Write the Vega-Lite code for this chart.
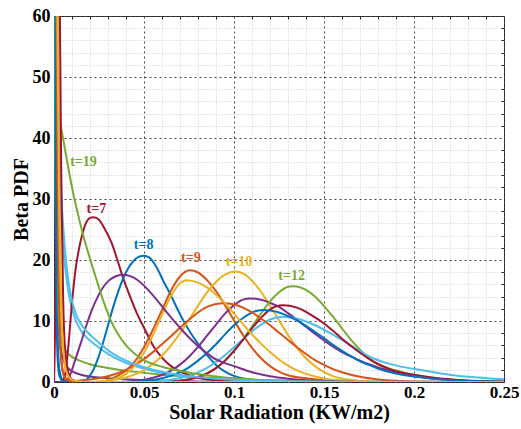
{
 "$schema": "https://vega.github.io/schema/vega-lite/v6.json",
 "width": 450, "height": 366,
 "autosize": {"type": "none"},
 "padding": {"left": 54, "top": 16, "right": 17, "bottom": 47},
 "background": "white",
 "config": {"view": {"stroke": "#262626", "strokeWidth": 1}, "font": "Liberation Serif"},
 "datasets": {
  "curves": [
   {"t":"t01","x":0,"y":400},{"t":"t01","x":0.0005,"y":120},{"t":"t01","x":0.001,"y":45},{"t":"t01","x":0.0015,"y":18},{"t":"t01","x":0.002,"y":8},{"t":"t01","x":0.003,"y":2},{"t":"t01","x":0.005,"y":0.3},{"t":"t01","x":0.01,"y":0},{"t":"t01","x":0.25,"y":0},
   {"t":"t02","x":0,"y":300},{"t":"t02","x":0.0005,"y":200},{"t":"t02","x":0.001,"y":110},{"t":"t02","x":0.0015,"y":65},{"t":"t02","x":0.002,"y":40},{"t":"t02","x":0.0028,"y":16},{"t":"t02","x":0.0035,"y":7},{"t":"t02","x":0.0046,"y":2.3},{"t":"t02","x":0.006,"y":0.8},{"t":"t02","x":0.008,"y":0.3},{"t":"t02","x":0.011,"y":0.05},{"t":"t02","x":0.02,"y":0},{"t":"t02","x":0.25,"y":0},
   {"t":"t03","x":0,"y":250},{"t":"t03","x":0.001,"y":120},{"t":"t03","x":0.002,"y":60},{"t":"t03","x":0.003,"y":28},{"t":"t03","x":0.0037,"y":16},{"t":"t03","x":0.0045,"y":9},{"t":"t03","x":0.0055,"y":4},{"t":"t03","x":0.0065,"y":1.9},{"t":"t03","x":0.008,"y":0.8},{"t":"t03","x":0.01,"y":0.3},{"t":"t03","x":0.0144,"y":0.05},{"t":"t03","x":0.02,"y":0},{"t":"t03","x":0.25,"y":0},
   {"t":"t04","x":0,"y":300},{"t":"t04","x":0.001,"y":40},{"t":"t04","x":0.002,"y":15},{"t":"t04","x":0.004,"y":5},{"t":"t04","x":0.008,"y":2.2},{"t":"t04","x":0.015,"y":1.2},{"t":"t04","x":0.03,"y":0.6},{"t":"t04","x":0.05,"y":0.3},{"t":"t04","x":0.08,"y":0.1},{"t":"t04","x":0.12,"y":0},{"t":"t04","x":0.25,"y":0},
   {"t":"t05","x":0,"y":300},{"t":"t05","x":0.0005,"y":50},{"t":"t05","x":0.001,"y":25},{"t":"t05","x":0.0015,"y":17},{"t":"t05","x":0.002,"y":13},{"t":"t05","x":0.003,"y":9},{"t":"t05","x":0.005,"y":6},{"t":"t05","x":0.008,"y":4.6},{"t":"t05","x":0.012,"y":3.8},{"t":"t05","x":0.016,"y":3.3},{"t":"t05","x":0.02,"y":2.9},{"t":"t05","x":0.03,"y":2.3},{"t":"t05","x":0.044,"y":1.7},{"t":"t05","x":0.06,"y":1.2},{"t":"t05","x":0.08,"y":0.8},{"t":"t05","x":0.1,"y":0.5},{"t":"t05","x":0.13,"y":0.25},{"t":"t05","x":0.17,"y":0.08},{"t":"t05","x":0.25,"y":0},
   {"t":"t06","x":0,"y":200},{"t":"t06","x":0.001,"y":90},{"t":"t06","x":0.002,"y":50},{"t":"t06","x":0.003,"y":34},{"t":"t06","x":0.004,"y":27},{"t":"t06","x":0.005,"y":22.5},{"t":"t06","x":0.006,"y":19.3},{"t":"t06","x":0.007,"y":16.8},{"t":"t06","x":0.0083,"y":14.3},{"t":"t06","x":0.01,"y":12},{"t":"t06","x":0.012,"y":10.2},{"t":"t06","x":0.015,"y":8.4},{"t":"t06","x":0.0185,"y":7.2},{"t":"t06","x":0.022,"y":6.3},{"t":"t06","x":0.026,"y":5.4},{"t":"t06","x":0.03,"y":4.6},{"t":"t06","x":0.037,"y":3.5},{"t":"t06","x":0.045,"y":2.6},{"t":"t06","x":0.055,"y":1.8},{"t":"t06","x":0.065,"y":1.2},{"t":"t06","x":0.08,"y":0.7},{"t":"t06","x":0.1,"y":0.3},{"t":"t06","x":0.12,"y":0.14},{"t":"t06","x":0.15,"y":0.05},{"t":"t06","x":0.25,"y":0},
   {"t":"t07","x":0,"y":0},{"t":"t07","x":0.004,"y":0},{"t":"t07","x":0.006,"y":1},{"t":"t07","x":0.008,"y":6},{"t":"t07","x":0.01,"y":13},{"t":"t07","x":0.012,"y":18.5},{"t":"t07","x":0.014,"y":22},{"t":"t07","x":0.016,"y":24.5},{"t":"t07","x":0.018,"y":26.2},{"t":"t07","x":0.02,"y":26.9},{"t":"t07","x":0.022,"y":27},{"t":"t07","x":0.025,"y":26.6},{"t":"t07","x":0.028,"y":25.2},{"t":"t07","x":0.032,"y":22.8},{"t":"t07","x":0.035,"y":20.2},{"t":"t07","x":0.038,"y":17.4},{"t":"t07","x":0.042,"y":14.2},{"t":"t07","x":0.046,"y":11.3},{"t":"t07","x":0.05,"y":8.9},{"t":"t07","x":0.055,"y":6},{"t":"t07","x":0.06,"y":4},{"t":"t07","x":0.065,"y":2.6},{"t":"t07","x":0.07,"y":1.7},{"t":"t07","x":0.08,"y":0.7},{"t":"t07","x":0.09,"y":0.25},{"t":"t07","x":0.1,"y":0.08},{"t":"t07","x":0.12,"y":0},{"t":"t07","x":0.25,"y":0},
   {"t":"t08","x":0,"y":0},{"t":"t08","x":0.012,"y":0},{"t":"t08","x":0.015,"y":0.1},{"t":"t08","x":0.018,"y":0.4},{"t":"t08","x":0.021,"y":1.5},{"t":"t08","x":0.024,"y":3.5},{"t":"t08","x":0.027,"y":6.2},{"t":"t08","x":0.03,"y":9.3},{"t":"t08","x":0.033,"y":12.4},{"t":"t08","x":0.036,"y":15.1},{"t":"t08","x":0.04,"y":18},{"t":"t08","x":0.044,"y":19.8},{"t":"t08","x":0.047,"y":20.5},{"t":"t08","x":0.05,"y":20.7},{"t":"t08","x":0.053,"y":20.4},{"t":"t08","x":0.057,"y":18.8},{"t":"t08","x":0.061,"y":16.4},{"t":"t08","x":0.065,"y":14.2},{"t":"t08","x":0.068,"y":12.3},{"t":"t08","x":0.072,"y":10},{"t":"t08","x":0.076,"y":8},{"t":"t08","x":0.08,"y":6.3},{"t":"t08","x":0.085,"y":4.4},{"t":"t08","x":0.09,"y":2.8},{"t":"t08","x":0.095,"y":1.7},{"t":"t08","x":0.1,"y":1},{"t":"t08","x":0.11,"y":0.35},{"t":"t08","x":0.12,"y":0.1},{"t":"t08","x":0.13,"y":0},{"t":"t08","x":0.25,"y":0},
   {"t":"t09","x":0,"y":0},{"t":"t09","x":0.025,"y":0},{"t":"t09","x":0.03,"y":0.3},{"t":"t09","x":0.035,"y":0.96},{"t":"t09","x":0.04,"y":1.9},{"t":"t09","x":0.045,"y":3.4},{"t":"t09","x":0.05,"y":5.7},{"t":"t09","x":0.055,"y":8.6},{"t":"t09","x":0.06,"y":11.8},{"t":"t09","x":0.065,"y":15},{"t":"t09","x":0.07,"y":17.3},{"t":"t09","x":0.0756,"y":18.3},{"t":"t09","x":0.08,"y":17.95},{"t":"t09","x":0.085,"y":16.7},{"t":"t09","x":0.09,"y":14.9},{"t":"t09","x":0.095,"y":12.6},{"t":"t09","x":0.1,"y":10.1},{"t":"t09","x":0.105,"y":7.7},{"t":"t09","x":0.11,"y":5.6},{"t":"t09","x":0.115,"y":3.9},{"t":"t09","x":0.12,"y":2.6},{"t":"t09","x":0.125,"y":1.7},{"t":"t09","x":0.13,"y":1.1},{"t":"t09","x":0.14,"y":0.6},{"t":"t09","x":0.15,"y":0.3},{"t":"t09","x":0.16,"y":0.15},{"t":"t09","x":0.17,"y":0.07},{"t":"t09","x":0.18,"y":0},{"t":"t09","x":0.25,"y":0},
   {"t":"t10","x":0,"y":0},{"t":"t10","x":0.025,"y":0},{"t":"t10","x":0.03,"y":0.24},{"t":"t10","x":0.04,"y":0.75},{"t":"t10","x":0.045,"y":1.24},{"t":"t10","x":0.05,"y":1.96},{"t":"t10","x":0.055,"y":2.97},{"t":"t10","x":0.06,"y":4.3},{"t":"t10","x":0.065,"y":6},{"t":"t10","x":0.07,"y":8},{"t":"t10","x":0.075,"y":10.2},{"t":"t10","x":0.08,"y":12.5},{"t":"t10","x":0.085,"y":14.7},{"t":"t10","x":0.09,"y":16.4},{"t":"t10","x":0.095,"y":17.6},{"t":"t10","x":0.1006,"y":18.1},{"t":"t10","x":0.105,"y":17.8},{"t":"t10","x":0.11,"y":16.6},{"t":"t10","x":0.115,"y":14.8},{"t":"t10","x":0.12,"y":12.5},{"t":"t10","x":0.125,"y":10.1},{"t":"t10","x":0.13,"y":7.7},{"t":"t10","x":0.135,"y":5.6},{"t":"t10","x":0.14,"y":3.9},{"t":"t10","x":0.145,"y":2.6},{"t":"t10","x":0.15,"y":1.6},{"t":"t10","x":0.155,"y":0.97},{"t":"t10","x":0.16,"y":0.56},{"t":"t10","x":0.17,"y":0.16},{"t":"t10","x":0.18,"y":0.03},{"t":"t10","x":0.19,"y":0},{"t":"t10","x":0.25,"y":0},
   {"t":"t11","x":0,"y":0},{"t":"t11","x":0.04,"y":0},{"t":"t11","x":0.045,"y":0.2},{"t":"t11","x":0.05,"y":0.38},{"t":"t11","x":0.055,"y":0.69},{"t":"t11","x":0.06,"y":1.14},{"t":"t11","x":0.065,"y":1.85},{"t":"t11","x":0.07,"y":2.85},{"t":"t11","x":0.075,"y":4.15},{"t":"t11","x":0.08,"y":5.75},{"t":"t11","x":0.085,"y":7.6},{"t":"t11","x":0.09,"y":9.4},{"t":"t11","x":0.095,"y":11.2},{"t":"t11","x":0.1,"y":12.6},{"t":"t11","x":0.105,"y":13.5},{"t":"t11","x":0.109,"y":13.7},{"t":"t11","x":0.115,"y":13.5},{"t":"t11","x":0.12,"y":13},{"t":"t11","x":0.125,"y":12.3},{"t":"t11","x":0.13,"y":11.3},{"t":"t11","x":0.135,"y":10.2},{"t":"t11","x":0.14,"y":9.05},{"t":"t11","x":0.145,"y":7.9},{"t":"t11","x":0.15,"y":6.8},{"t":"t11","x":0.155,"y":5.8},{"t":"t11","x":0.16,"y":4.9},{"t":"t11","x":0.165,"y":4.2},{"t":"t11","x":0.17,"y":3.5},{"t":"t11","x":0.175,"y":2.9},{"t":"t11","x":0.18,"y":2.4},{"t":"t11","x":0.185,"y":2},{"t":"t11","x":0.19,"y":1.6},{"t":"t11","x":0.2,"y":1},{"t":"t11","x":0.21,"y":0.6},{"t":"t11","x":0.22,"y":0.35},{"t":"t11","x":0.23,"y":0.18},{"t":"t11","x":0.24,"y":0.08},{"t":"t11","x":0.25,"y":0.03},
   {"t":"t12","x":0,"y":0},{"t":"t12","x":0.065,"y":0},{"t":"t12","x":0.07,"y":0.26},{"t":"t12","x":0.075,"y":0.48},{"t":"t12","x":0.08,"y":0.86},{"t":"t12","x":0.085,"y":1.46},{"t":"t12","x":0.09,"y":2.3},{"t":"t12","x":0.095,"y":3.5},{"t":"t12","x":0.1,"y":5.1},{"t":"t12","x":0.105,"y":7},{"t":"t12","x":0.11,"y":9.1},{"t":"t12","x":0.115,"y":11.2},{"t":"t12","x":0.12,"y":13.2},{"t":"t12","x":0.125,"y":14.7},{"t":"t12","x":0.13,"y":15.6},{"t":"t12","x":0.133,"y":15.7},{"t":"t12","x":0.14,"y":15.1},{"t":"t12","x":0.145,"y":14},{"t":"t12","x":0.15,"y":12.45},{"t":"t12","x":0.155,"y":10.7},{"t":"t12","x":0.16,"y":8.8},{"t":"t12","x":0.165,"y":6.9},{"t":"t12","x":0.17,"y":5.3},{"t":"t12","x":0.175,"y":3.9},{"t":"t12","x":0.18,"y":2.9},{"t":"t12","x":0.185,"y":2.3},{"t":"t12","x":0.19,"y":1.9},{"t":"t12","x":0.195,"y":1.5},{"t":"t12","x":0.2,"y":1.15},{"t":"t12","x":0.21,"y":0.65},{"t":"t12","x":0.22,"y":0.35},{"t":"t12","x":0.23,"y":0.17},{"t":"t12","x":0.24,"y":0.08},{"t":"t12","x":0.25,"y":0.03},
   {"t":"t13","x":0,"y":0},{"t":"t13","x":0.055,"y":0},{"t":"t13","x":0.06,"y":0.22},{"t":"t13","x":0.065,"y":0.38},{"t":"t13","x":0.07,"y":0.64},{"t":"t13","x":0.075,"y":1},{"t":"t13","x":0.08,"y":1.57},{"t":"t13","x":0.085,"y":2.3},{"t":"t13","x":0.09,"y":3.3},{"t":"t13","x":0.095,"y":4.4},{"t":"t13","x":0.1,"y":5.7},{"t":"t13","x":0.105,"y":7},{"t":"t13","x":0.11,"y":8.3},{"t":"t13","x":0.115,"y":9.4},{"t":"t13","x":0.12,"y":10.25},{"t":"t13","x":0.127,"y":10.7},{"t":"t13","x":0.135,"y":10.4},{"t":"t13","x":0.145,"y":9.3},{"t":"t13","x":0.157,"y":7.4},{"t":"t13","x":0.166,"y":5.8},{"t":"t13","x":0.1756,"y":4.1},{"t":"t13","x":0.185,"y":3.1},{"t":"t13","x":0.195,"y":2.4},{"t":"t13","x":0.203,"y":2},{"t":"t13","x":0.215,"y":1.4},{"t":"t13","x":0.225,"y":1},{"t":"t13","x":0.235,"y":0.75},{"t":"t13","x":0.244,"y":0.55},{"t":"t13","x":0.25,"y":0.45},
   {"t":"t14","x":0,"y":0},{"t":"t14","x":0.065,"y":0},{"t":"t14","x":0.07,"y":0.22},{"t":"t14","x":0.075,"y":0.43},{"t":"t14","x":0.08,"y":0.8},{"t":"t14","x":0.085,"y":1.39},{"t":"t14","x":0.09,"y":2.28},{"t":"t14","x":0.095,"y":3.5},{"t":"t14","x":0.1,"y":5.1},{"t":"t14","x":0.105,"y":6.9},{"t":"t14","x":0.11,"y":8.8},{"t":"t14","x":0.115,"y":10.5},{"t":"t14","x":0.12,"y":11.9},{"t":"t14","x":0.127,"y":12.6},{"t":"t14","x":0.135,"y":12.2},{"t":"t14","x":0.14,"y":11.5},{"t":"t14","x":0.145,"y":10.6},{"t":"t14","x":0.15,"y":9.6},{"t":"t14","x":0.155,"y":8.4},{"t":"t14","x":0.16,"y":7.1},{"t":"t14","x":0.165,"y":5.9},{"t":"t14","x":0.17,"y":4.8},{"t":"t14","x":0.175,"y":3.8},{"t":"t14","x":0.18,"y":2.95},{"t":"t14","x":0.185,"y":2.3},{"t":"t14","x":0.19,"y":1.75},{"t":"t14","x":0.195,"y":1.45},{"t":"t14","x":0.2,"y":1.2},{"t":"t14","x":0.21,"y":0.75},{"t":"t14","x":0.22,"y":0.45},{"t":"t14","x":0.23,"y":0.25},{"t":"t14","x":0.24,"y":0.13},{"t":"t14","x":0.25,"y":0.06},
   {"t":"t15","x":0,"y":0},{"t":"t15","x":0.045,"y":0},{"t":"t15","x":0.05,"y":0.19},{"t":"t15","x":0.055,"y":0.35},{"t":"t15","x":0.06,"y":0.62},{"t":"t15","x":0.065,"y":1},{"t":"t15","x":0.07,"y":1.6},{"t":"t15","x":0.075,"y":2.4},{"t":"t15","x":0.08,"y":3.5},{"t":"t15","x":0.085,"y":4.75},{"t":"t15","x":0.09,"y":6.2},{"t":"t15","x":0.095,"y":7.8},{"t":"t15","x":0.1,"y":9.3},{"t":"t15","x":0.105,"y":10.5},{"t":"t15","x":0.11,"y":11.4},{"t":"t15","x":0.116,"y":11.8},{"t":"t15","x":0.12,"y":11.7},{"t":"t15","x":0.125,"y":11.4},{"t":"t15","x":0.13,"y":10.8},{"t":"t15","x":0.135,"y":10.1},{"t":"t15","x":0.14,"y":9.2},{"t":"t15","x":0.145,"y":8.2},{"t":"t15","x":0.15,"y":7.2},{"t":"t15","x":0.155,"y":6.1},{"t":"t15","x":0.16,"y":5.1},{"t":"t15","x":0.165,"y":4.2},{"t":"t15","x":0.17,"y":3.4},{"t":"t15","x":0.175,"y":2.8},{"t":"t15","x":0.18,"y":2.2},{"t":"t15","x":0.19,"y":1.4},{"t":"t15","x":0.2,"y":0.9},{"t":"t15","x":0.21,"y":0.55},{"t":"t15","x":0.22,"y":0.32},{"t":"t15","x":0.23,"y":0.18},{"t":"t15","x":0.24,"y":0.1},{"t":"t15","x":0.25,"y":0.05},
   {"t":"t16","x":0,"y":0},{"t":"t16","x":0.005,"y":0},{"t":"t16","x":0.01,"y":0.14},{"t":"t16","x":0.02,"y":0.4},{"t":"t16","x":0.03,"y":0.95},{"t":"t16","x":0.04,"y":2},{"t":"t16","x":0.045,"y":2.8},{"t":"t16","x":0.05,"y":3.76},{"t":"t16","x":0.055,"y":4.9},{"t":"t16","x":0.06,"y":6.2},{"t":"t16","x":0.065,"y":7.5},{"t":"t16","x":0.07,"y":8.9},{"t":"t16","x":0.075,"y":10.2},{"t":"t16","x":0.08,"y":11.4},{"t":"t16","x":0.085,"y":12.3},{"t":"t16","x":0.09,"y":12.8},{"t":"t16","x":0.094,"y":12.9},{"t":"t16","x":0.1,"y":12.7},{"t":"t16","x":0.105,"y":12.2},{"t":"t16","x":0.11,"y":11.4},{"t":"t16","x":0.115,"y":10.4},{"t":"t16","x":0.12,"y":9.3},{"t":"t16","x":0.125,"y":8.1},{"t":"t16","x":0.13,"y":6.9},{"t":"t16","x":0.135,"y":5.7},{"t":"t16","x":0.14,"y":4.6},{"t":"t16","x":0.145,"y":3.6},{"t":"t16","x":0.15,"y":2.8},{"t":"t16","x":0.155,"y":2.1},{"t":"t16","x":0.16,"y":1.6},{"t":"t16","x":0.17,"y":0.85},{"t":"t16","x":0.18,"y":0.42},{"t":"t16","x":0.19,"y":0.2},{"t":"t16","x":0.2,"y":0.09},{"t":"t16","x":0.21,"y":0.03},{"t":"t16","x":0.22,"y":0},{"t":"t16","x":0.25,"y":0},
   {"t":"t17","x":0,"y":0},{"t":"t17","x":0.02,"y":0},{"t":"t17","x":0.025,"y":0.08},{"t":"t17","x":0.03,"y":0.24},{"t":"t17","x":0.035,"y":0.6},{"t":"t17","x":0.04,"y":1.33},{"t":"t17","x":0.045,"y":2.7},{"t":"t17","x":0.05,"y":4.8},{"t":"t17","x":0.055,"y":7.7},{"t":"t17","x":0.06,"y":11},{"t":"t17","x":0.065,"y":14.1},{"t":"t17","x":0.07,"y":16.2},{"t":"t17","x":0.0737,"y":16.7},{"t":"t17","x":0.08,"y":16.3},{"t":"t17","x":0.085,"y":15.5},{"t":"t17","x":0.09,"y":14.3},{"t":"t17","x":0.095,"y":12.9},{"t":"t17","x":0.1,"y":11.2},{"t":"t17","x":0.105,"y":9.5},{"t":"t17","x":0.11,"y":7.8},{"t":"t17","x":0.115,"y":6.3},{"t":"t17","x":0.12,"y":4.9},{"t":"t17","x":0.125,"y":3.7},{"t":"t17","x":0.13,"y":2.7},{"t":"t17","x":0.135,"y":1.9},{"t":"t17","x":0.14,"y":1.33},{"t":"t17","x":0.145,"y":0.9},{"t":"t17","x":0.15,"y":0.58},{"t":"t17","x":0.16,"y":0.23},{"t":"t17","x":0.17,"y":0.08},{"t":"t17","x":0.18,"y":0},{"t":"t17","x":0.25,"y":0},
   {"t":"t18","x":0,"y":0},{"t":"t18","x":0.006,"y":0},{"t":"t18","x":0.008,"y":0.5},{"t":"t18","x":0.01,"y":2},{"t":"t18","x":0.012,"y":3.8},{"t":"t18","x":0.015,"y":6.5},{"t":"t18","x":0.018,"y":9.3},{"t":"t18","x":0.021,"y":11.8},{"t":"t18","x":0.024,"y":13.8},{"t":"t18","x":0.027,"y":15.4},{"t":"t18","x":0.03,"y":16.5},{"t":"t18","x":0.034,"y":17.3},{"t":"t18","x":0.038,"y":17.6},{"t":"t18","x":0.042,"y":17.4},{"t":"t18","x":0.046,"y":16.8},{"t":"t18","x":0.05,"y":15.8},{"t":"t18","x":0.055,"y":14.2},{"t":"t18","x":0.06,"y":12.4},{"t":"t18","x":0.065,"y":10.6},{"t":"t18","x":0.07,"y":8.9},{"t":"t18","x":0.075,"y":7.3},{"t":"t18","x":0.08,"y":5.9},{"t":"t18","x":0.085,"y":4.7},{"t":"t18","x":0.09,"y":3.7},{"t":"t18","x":0.095,"y":3.1},{"t":"t18","x":0.1,"y":2.6},{"t":"t18","x":0.11,"y":1.6},{"t":"t18","x":0.12,"y":0.95},{"t":"t18","x":0.13,"y":0.55},{"t":"t18","x":0.14,"y":0.3},{"t":"t18","x":0.15,"y":0.15},{"t":"t18","x":0.17,"y":0.02},{"t":"t18","x":0.25,"y":0},
   {"t":"t19","x":0,"y":48},{"t":"t19","x":0.001,"y":46.5},{"t":"t19","x":0.0024,"y":44},{"t":"t19","x":0.005,"y":40},{"t":"t19","x":0.008,"y":35},{"t":"t19","x":0.011,"y":30.5},{"t":"t19","x":0.0135,"y":27.3},{"t":"t19","x":0.016,"y":24.3},{"t":"t19","x":0.019,"y":21.2},{"t":"t19","x":0.022,"y":18.3},{"t":"t19","x":0.025,"y":15.5},{"t":"t19","x":0.028,"y":12.8},{"t":"t19","x":0.0315,"y":10.1},{"t":"t19","x":0.035,"y":8.1},{"t":"t19","x":0.04,"y":6},{"t":"t19","x":0.045,"y":4.6},{"t":"t19","x":0.05,"y":3.6},{"t":"t19","x":0.06,"y":2.5},{"t":"t19","x":0.07,"y":1.8},{"t":"t19","x":0.08,"y":1.3},{"t":"t19","x":0.09,"y":0.9},{"t":"t19","x":0.1,"y":0.6},{"t":"t19","x":0.12,"y":0.25},{"t":"t19","x":0.14,"y":0.1},{"t":"t19","x":0.17,"y":0.02},{"t":"t19","x":0.25,"y":0},
   {"t":"t20","x":0,"y":250},{"t":"t20","x":0.001,"y":120},{"t":"t20","x":0.002,"y":60},{"t":"t20","x":0.003,"y":40},{"t":"t20","x":0.004,"y":31},{"t":"t20","x":0.005,"y":26},{"t":"t20","x":0.006,"y":22},{"t":"t20","x":0.007,"y":19},{"t":"t20","x":0.0083,"y":16},{"t":"t20","x":0.01,"y":13.3},{"t":"t20","x":0.012,"y":11.3},{"t":"t20","x":0.015,"y":9.5},{"t":"t20","x":0.0185,"y":8.2},{"t":"t20","x":0.022,"y":7.2},{"t":"t20","x":0.026,"y":6.2},{"t":"t20","x":0.03,"y":5.2},{"t":"t20","x":0.037,"y":3.9},{"t":"t20","x":0.045,"y":2.9},{"t":"t20","x":0.055,"y":2},{"t":"t20","x":0.065,"y":1.4},{"t":"t20","x":0.08,"y":0.8},{"t":"t20","x":0.1,"y":0.35},{"t":"t20","x":0.12,"y":0.15},{"t":"t20","x":0.15,"y":0.05},{"t":"t20","x":0.25,"y":0},
   {"t":"t21","x":0,"y":0},{"t":"t21","x":0.001,"y":20},{"t":"t21","x":0.0015,"y":60},{"t":"t21","x":0.002,"y":90},{"t":"t21","x":0.003,"y":70},{"t":"t21","x":0.004,"y":35},{"t":"t21","x":0.005,"y":15},{"t":"t21","x":0.006,"y":6},{"t":"t21","x":0.008,"y":1.5},{"t":"t21","x":0.01,"y":0.4},{"t":"t21","x":0.015,"y":0},{"t":"t21","x":0.25,"y":0},
   {"t":"t22","x":0,"y":400},{"t":"t22","x":0.0005,"y":90},{"t":"t22","x":0.001,"y":30},{"t":"t22","x":0.0015,"y":10},{"t":"t22","x":0.002,"y":4},{"t":"t22","x":0.003,"y":1},{"t":"t22","x":0.005,"y":0.1},{"t":"t22","x":0.01,"y":0},{"t":"t22","x":0.25,"y":0},
   {"t":"t23","x":0,"y":300},{"t":"t23","x":0.0005,"y":180},{"t":"t23","x":0.001,"y":95},{"t":"t23","x":0.0015,"y":55},{"t":"t23","x":0.002,"y":33},{"t":"t23","x":0.0028,"y":14},{"t":"t23","x":0.0035,"y":6},{"t":"t23","x":0.0046,"y":2},{"t":"t23","x":0.006,"y":0.7},{"t":"t23","x":0.008,"y":0.25},{"t":"t23","x":0.011,"y":0.05},{"t":"t23","x":0.02,"y":0},{"t":"t23","x":0.25,"y":0},
   {"t":"t24","x":0,"y":250},{"t":"t24","x":0.001,"y":110},{"t":"t24","x":0.002,"y":55},{"t":"t24","x":0.003,"y":26},{"t":"t24","x":0.004,"y":12},{"t":"t24","x":0.005,"y":6},{"t":"t24","x":0.006,"y":3},{"t":"t24","x":0.007,"y":1.6},{"t":"t24","x":0.009,"y":0.6},{"t":"t24","x":0.012,"y":0.15},{"t":"t24","x":0.02,"y":0},{"t":"t24","x":0.25,"y":0}
  ],
  "labels": [
   {"t":"t19","label":"t=19","x":0.0164,"y":36.1},
   {"t":"t07","label":"t=7","x":0.0235,"y":28.3},
   {"t":"t08","label":"t=8","x":0.0498,"y":22.5},
   {"t":"t09","label":"t=9","x":0.076,"y":20.3},
   {"t":"t10","label":"t=10","x":0.1028,"y":19.7},
   {"t":"t12","label":"t=12","x":0.132,"y":17.4}
  ]
 },
 "resolve": {"axis": {"x": "independent", "y": "independent"}},
 "layer": [
  {
   "data": {"name": "curves"},
   "mark": {"type": "line", "clip": true, "strokeWidth": 2, "interpolate": "monotone"},
   "encoding": {
    "x": {"field": "x", "type": "quantitative",
     "scale": {"domain": [0, 0.25], "nice": false, "zero": false},
     "axis": {"orient": "bottom", "values": [0, 0.05, 0.1, 0.15, 0.2, 0.25], "format": "~g",
      "grid": true, "gridColor": "#444444", "gridDash": [2, 3], "gridWidth": 1,
      "ticks": false, "domain": false, "labelOverlap": false, "labelFlush": false,
      "labelFont": "Liberation Serif", "labelFontWeight": "bold", "labelFontSize": 17, "labelColor": "#000000", "labelPadding": 2,
      "title": "Solar Radiation (KW/m2)", "titleFont": "Liberation Serif", "titleFontWeight": "bold", "titleFontSize": 20, "titleColor": "#000000",
      "titleY": 36, "titleBaseline": "alphabetic"}},
    "y": {"field": "y", "type": "quantitative",
     "scale": {"domain": [0, 60], "nice": false, "zero": false},
     "axis": {"orient": "left", "values": [0, 10, 20, 30, 40, 50, 60],
      "grid": true, "gridColor": "#444444", "gridDash": [2, 3], "gridWidth": 1,
      "ticks": false, "domain": false, "labelOverlap": false, "labelFlush": false,
      "labelFont": "Liberation Serif", "labelFontWeight": "bold", "labelFontSize": 18, "labelColor": "#000000", "labelPadding": 4,
      "title": "Beta PDF", "titleFont": "Liberation Serif", "titleFontWeight": "bold", "titleFontSize": 20, "titleColor": "#000000",
      "titleX": -27, "titleBaseline": "alphabetic"}},
    "color": {"field": "t", "type": "nominal", "legend": null,
     "scale": {"domain": ["t01","t02","t03","t04","t05","t06","t07","t08","t09","t10","t11","t12","t13","t14","t15","t16","t17","t18","t19","t20","t21","t22","t23","t24"],
      "range": ["#0072BD","#D95319","#EDB120","#7E2F8E","#77AC30","#4DBEEE","#A2142F","#0072BD","#D95319","#EDB120","#7E2F8E","#77AC30","#4DBEEE","#A2142F","#0072BD","#D95319","#EDB120","#7E2F8E","#77AC30","#4DBEEE","#A2142F","#0072BD","#D95319","#EDB120"]}}
   }
  },
  {
   "data": {"name": "labels"},
   "mark": {"type": "text", "font": "Liberation Serif", "fontWeight": "bold", "fontSize": 14, "align": "center", "baseline": "middle"},
   "encoding": {
    "x": {"field": "x", "type": "quantitative",
     "scale": {"domain": [0, 0.25], "nice": false, "zero": false},
     "axis": {"orient": "top", "values": [0.01,0.02,0.03,0.04,0.06,0.07,0.08,0.09,0.11,0.12,0.13,0.14,0.16,0.17,0.18,0.19,0.21,0.22,0.23,0.24],
      "grid": true, "gridColor": "#cccccc", "gridDash": [1, 2], "gridWidth": 1,
      "ticks": true, "tickSize": -3, "tickColor": "#262626", "domain": false, "labels": false, "title": null}},
    "y": {"field": "y", "type": "quantitative",
     "scale": {"domain": [0, 60], "nice": false, "zero": false},
     "axis": {"orient": "right", "values": [2,4,6,8,12,14,16,18,22,24,26,28,32,34,36,38,42,44,46,48,52,54,56,58],
      "grid": true, "gridColor": "#cccccc", "gridDash": [1, 2], "gridWidth": 1,
      "ticks": true, "tickSize": -3, "tickColor": "#262626", "domain": false, "labels": false, "title": null}},
    "text": {"field": "label"},
    "color": {"field": "t", "type": "nominal", "legend": null}
   }
  }
 ]
}
